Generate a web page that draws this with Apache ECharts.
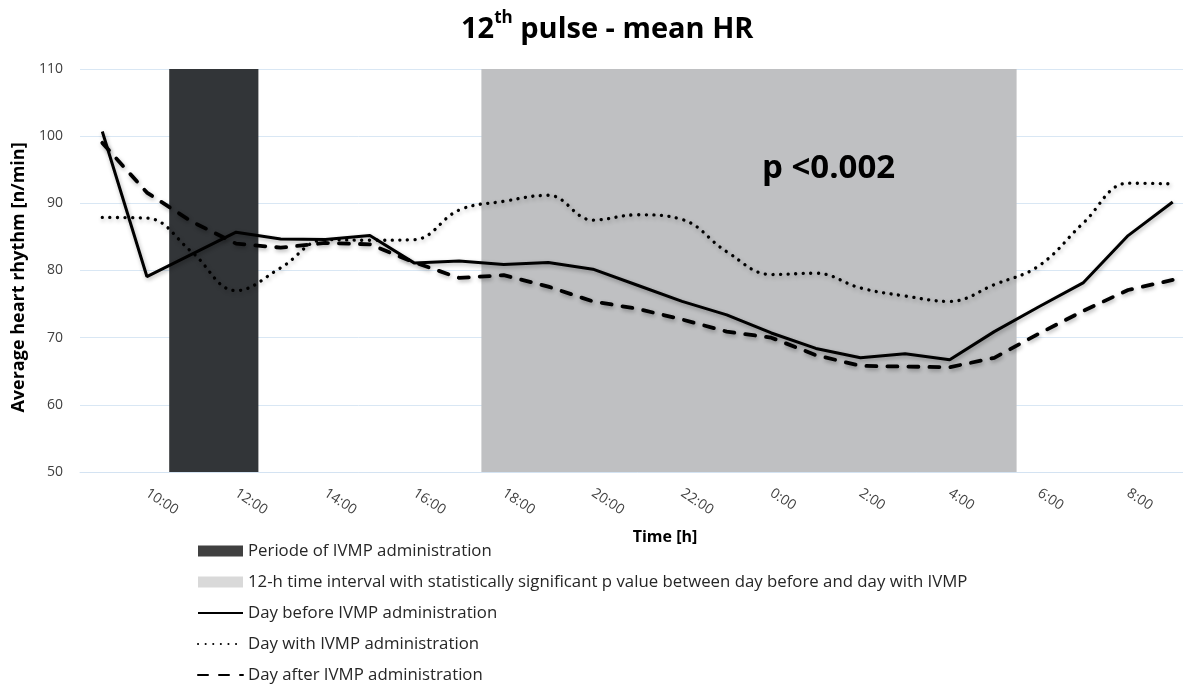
<!DOCTYPE html>
<html>
<head>
<meta charset="utf-8">
<title>12th pulse - mean HR</title>
<script src="https://cdn.jsdelivr.net/npm/echarts@6/dist/echarts.min.js"></script>
<style>
html, body { margin: 0; padding: 0; background: #fff; overflow: hidden; }
#chart { width: 1200px; height: 686px; }
</style>
</head>
<body>
<div id="chart"></div>
<script>
// hourly categories, 9:00 -> 9:00 next day
const hours = ['9:00', '10:00', '11:00', '12:00', '13:00', '14:00', '15:00', '16:00', '17:00',
    '18:00', '19:00', '20:00', '21:00', '22:00', '23:00', '0:00', '1:00', '2:00', '3:00',
    '4:00', '5:00', '6:00', '7:00', '8:00', '9:00'];

const dayBefore = [100.7, 79.1, 82.4, 85.7, 84.7, 84.6, 85.2, 81.1, 81.4, 80.9, 81.2, 80.2, 77.8,
    75.4, 73.4, 70.7, 68.4, 67.0, 67.6, 66.7, 70.9, 74.6, 78.2, 85.2, 90.2];
const dayWith = [87.9, 87.8, 82.8, 77.0, 80.4, 84.6, 84.5, 84.6, 89.0, 90.3, 91.2, 87.5, 88.3,
    87.6, 82.8, 79.4, 79.6, 77.4, 76.2, 75.4, 77.9, 80.7, 87.1, 93.0, 92.9];
const dayAfter = [99.0, 91.6, 87.3, 84.0, 83.4, 84.1, 83.9, 81.2, 78.9, 79.3, 77.6, 75.4, 74.3,
    72.7, 70.9, 70.0, 67.4, 65.8, 65.7, 65.6, 67.0, 70.6, 74.0, 77.1, 78.6];

// shaded periods (first and last hour column covered)
const adminPeriod = [2, 3];      // 11:00 - 12:00
const signifPeriod = [9, 20];    // 18:00 - 5:00
const yRange = [50, 110];

const seriesNames = [
    'Periode of IVMP administration',
    '12-h time interval with statistically significant p value between day before and day with IVMP',
    'Day before IVMP administration',
    'Day with IVMP administration',
    'Day after IVMP administration'
];

const font = 'Open Sans';
const textColor = '#404040';
const lineShadow = { shadowColor: 'rgba(0,0,0,0.3)', shadowBlur: 4, shadowOffsetX: 1, shadowOffsetY: 2 };
const hideSymbol = { opacity: 0 };

// full-height band covering whole category columns
function renderBand(params, api) {
    const colW = api.size([1, 0])[0];
    const p0 = api.coord([api.value(0), yRange[1]]);
    const p1 = api.coord([api.value(1), yRange[0]]);
    return {
        type: 'rect',
        shape: { x: p0[0] - colW / 2, y: p0[1], width: p1[0] - p0[0] + colW, height: p1[1] - p0[1] },
        style: api.style()
    };
}

const chart = echarts.init(document.getElementById('chart'));

chart.setOption({
    animation: false,
    textStyle: { fontFamily: font },
    title: {
        text: '{a|12}{sup|th}{a| pulse - mean HR}',
        left: 461,
        top: 10,
        padding: 0,
        textStyle: {
            rich: {
                a: { fontFamily: font, fontSize: 29, fontWeight: 'bold', color: '#000', verticalAlign: 'bottom', lineHeight: 34 },
                sup: { fontFamily: font, fontSize: 17, fontWeight: 'bold', color: '#000', verticalAlign: 'top', lineHeight: 34 }
            }
        }
    },
    grid: { left: 80, top: 69, width: 1115, height: 403 },
    legend: {
        orient: 'vertical',
        left: 197,
        top: 541,
        height: 160,
        padding: 0,
        itemWidth: 45,
        itemHeight: 11,
        itemGap: 11,
        textStyle: { fontFamily: font, fontSize: 16.8, lineHeight: 20, color: '#262626' },
        data: [
            { name: seriesNames[0], icon: 'rect', itemStyle: { color: '#404040' } },
            { name: seriesNames[1], icon: 'rect', itemStyle: { color: '#d9d9d9' } },
            { name: seriesNames[2], itemStyle: hideSymbol },
            { name: seriesNames[3], itemStyle: hideSymbol },
            { name: seriesNames[4], itemStyle: hideSymbol }
        ]
    },
    xAxis: {
        type: 'category',
        data: hours,
        boundaryGap: true,
        name: 'Time [h]',
        nameLocation: 'middle',
        nameGap: 57,
        nameTextStyle: { fontFamily: font, fontSize: 16, fontWeight: 'bold', color: '#000', padding: [0, 0, 0, 55] },
        axisLine: { show: true, lineStyle: { color: '#d4e3f2', width: 1 } },
        axisTick: { show: false },
        axisLabel: {
            interval: (index) => index % 2 === 1,
            rotate: -33,
            margin: 20,
            fontFamily: font,
            fontSize: 14,
            color: textColor
        },
        splitLine: { show: false }
    },
    yAxis: {
        type: 'value',
        min: yRange[0],
        max: yRange[1],
        interval: 10,
        name: 'Average heart rhythm [n/min]',
        nameLocation: 'middle',
        nameGap: 50,
        nameTextStyle: { fontFamily: font, fontSize: 18, fontWeight: 'bold', color: '#000', padding: [0, 14, 0, 0] },
        axisLine: { show: false },
        axisTick: { show: false },
        axisLabel: { margin: 17, fontFamily: font, fontSize: 14, color: textColor },
        splitLine: { lineStyle: { color: '#d9e7f4', width: 1 } }
    },
    series: [
        {
            name: seriesNames[0],
            type: 'custom',
            renderItem: renderBand,
            data: [adminPeriod],
            encode: { x: [0, 1] },
            itemStyle: { color: '#323538' },
            silent: true,
            z: 1
        },
        {
            name: seriesNames[1],
            type: 'custom',
            renderItem: renderBand,
            data: [signifPeriod],
            encode: { x: [0, 1] },
            itemStyle: { color: '#bfc0c2' },
            silent: true,
            z: 1
        },
        {
            name: seriesNames[2],
            type: 'line',
            data: dayBefore,
            symbol: 'none',
            z: 3,
            itemStyle: { color: '#000' },
            lineStyle: Object.assign({ color: '#000', width: 3, type: 'solid' }, lineShadow)
        },
        {
            name: seriesNames[3],
            type: 'line',
            data: dayWith,
            symbol: 'none',
            smooth: 0.4,
            z: 3,
            itemStyle: { color: '#000' },
            lineStyle: Object.assign({ color: '#000', width: 3.3, type: [0.1, 7.5], cap: 'round' }, lineShadow)
        },
        {
            name: seriesNames[4],
            type: 'line',
            data: dayAfter,
            symbol: 'none',
            z: 3,
            itemStyle: { color: '#000' },
            lineStyle: Object.assign({ color: '#000', width: 3.8, type: [10, 11], cap: 'round' }, lineShadow)
        }
    ],
    graphic: [
        {
            type: 'text',
            left: 762,
            top: 152,
            z: 10,
            style: { text: 'p <0.002', font: 'bold 33px "Open Sans"', fill: '#000' }
        }
    ]
});
</script>
</body>
</html>
